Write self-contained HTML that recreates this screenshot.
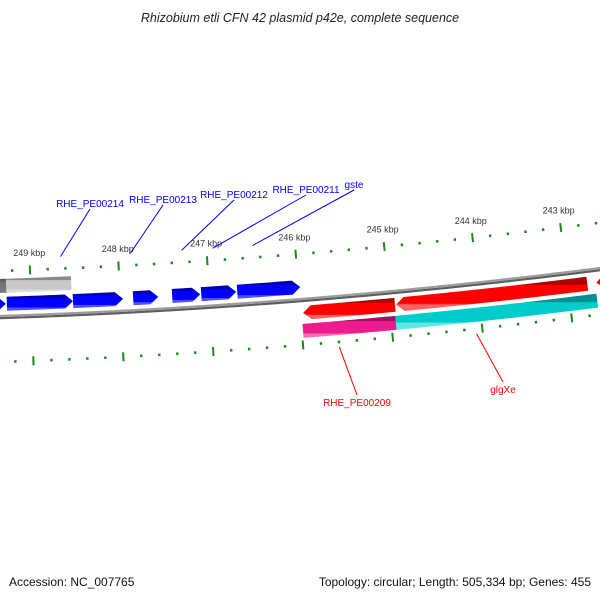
<!DOCTYPE html>
<html><head><meta charset="utf-8"><style>
body{margin:0;background:#fff;width:600px;height:600px;overflow:hidden;font-family:"Liberation Sans","DejaVu Sans",sans-serif}
svg{display:block}
</style></head><body>
<svg id="map" width="600" height="600" viewBox="0 0 600 600" xmlns="http://www.w3.org/2000/svg">
<defs>
<linearGradient id="gBlue" x1="0" y1="0" x2="0" y2="1"><stop offset="0" stop-color="#0000b0"/><stop offset="0.22" stop-color="#0000b0"/><stop offset="0.25" stop-color="#0000ff"/><stop offset="0.78" stop-color="#0000ff"/><stop offset="0.82" stop-color="#5050ff"/><stop offset="1" stop-color="#5050ff"/></linearGradient>
<linearGradient id="gRed" x1="0" y1="0" x2="0" y2="1"><stop offset="0" stop-color="#b00000"/><stop offset="0.22" stop-color="#b00000"/><stop offset="0.25" stop-color="#ff0000"/><stop offset="0.78" stop-color="#ff0000"/><stop offset="0.82" stop-color="#ff6060"/><stop offset="1" stop-color="#ff6060"/></linearGradient>
<linearGradient id="gPink" x1="0" y1="0" x2="0" y2="1"><stop offset="0" stop-color="#a0105e"/><stop offset="0.22" stop-color="#a0105e"/><stop offset="0.25" stop-color="#ec1c8e"/><stop offset="0.78" stop-color="#ec1c8e"/><stop offset="0.82" stop-color="#f070b0"/><stop offset="1" stop-color="#f070b0"/></linearGradient>
<linearGradient id="gCyan" x1="0" y1="0" x2="0" y2="1"><stop offset="0" stop-color="#009090"/><stop offset="0.22" stop-color="#009090"/><stop offset="0.25" stop-color="#00cccc"/><stop offset="0.78" stop-color="#00cccc"/><stop offset="0.82" stop-color="#60e8e8"/><stop offset="1" stop-color="#60e8e8"/></linearGradient>
<linearGradient id="gGray" x1="0" y1="0" x2="0" y2="1"><stop offset="0" stop-color="#8a8a8a"/><stop offset="0.22" stop-color="#8a8a8a"/><stop offset="0.25" stop-color="#c8c8c8"/><stop offset="0.78" stop-color="#c8c8c8"/><stop offset="0.82" stop-color="#dcdcdc"/><stop offset="1" stop-color="#dcdcdc"/></linearGradient>
<linearGradient id="gDark" x1="0" y1="0" x2="0" y2="1"><stop offset="0" stop-color="#505050"/><stop offset="0.25" stop-color="#707070"/><stop offset="1" stop-color="#808080"/></linearGradient>
</defs>
<text x="300" y="22" text-anchor="middle" font-size="12.5" font-style="italic" fill="#222">Rhizobium etli CFN 42 plasmid p42e, complete sequence</text>
<text x="9" y="586" font-size="12" fill="#111">Accession: NC_007765</text>
<text x="591" y="586" text-anchor="end" font-size="12" fill="#111">Topology: circular; Length: 505,334 bp; Genes: 455</text>
<g id="layer"></g>
</svg>
<script>
// ---- data ----
const tickStart = 249600;
const tickEnd = 242400;
const tickStep = 200;
const majorTicks = [249000, 248000, 247000, 246000, 245000, 244000, 243000];
const tickLabels = ["249 kbp", "248 kbp", "247 kbp", "246 kbp", "245 kbp", "244 kbp", "243 kbp"];
const featStart = [249576, 249273, 248531, 247856, 247418, 247092, 246687, 249700, 249273, 245970, 244929, 242680, 245987, 244949];
const featEnd   = [249284, 248531, 247969, 247575, 247103, 246699, 245979, 249273, 248542, 244941, 242781, 242000, 244949, 242695];
const featRow   = [-13, -13, -13, -13, -13, -13, -13, -31, -31, 13, 13, 13, 31, 31];
const featDir   = [1, 1, 1, 1, 1, 1, 1, 0, 0, -1, -1, -1, 0, 0];
const featFill  = ["gBlue","gBlue","gBlue","gBlue","gBlue","gBlue","gBlue","gDark","gGray","gRed","gRed","gRed","gPink","gCyan"];
const geneNames = ["RHE_PE00214", "RHE_PE00213", "RHE_PE00212", "RHE_PE00211", "gste", "RHE_PE00209", "glgXe"];
const geneBp    = [248650, 247860, 247280, 246930, 246480, 245600, 244070];
const geneSide  = [-1, -1, -1, -1, -1, 1, 1];

// ---- geometry ----
const CX = -213, CY = -6125.5, RB = 6446, K = 1.387e-5, PHI0 = 0.03797;
function ang(bp){ return PHI0 + (249000 - bp) * K; }
function pt(bp, r){ const a = ang(bp); return [CX + r*Math.sin(a), CY + r*Math.cos(a)]; }
const NS = "http://www.w3.org/2000/svg";
const layer = document.getElementById('layer');
function mk(tag, attrs){ const e = document.createElementNS(NS, tag); for (const k in attrs) e.setAttribute(k, attrs[k]); layer.appendChild(e); return e; }
function arcPts(b1, b2, r){ const out=[]; const n=Math.max(2, Math.ceil(Math.abs(b1-b2)/60)); for(let i=0;i<=n;i++){ out.push(pt(b1+(b2-b1)*i/n, r)); } return out; }

// backbone
[[RB+1.2,"#5e5e5e",2.2],[RB-1,"#9c9c9c",2.2]].forEach(function(s){
  const p = arcPts(250500, 241500, s[0]);
  const e = mk('polyline', {points: p.map(q=>q.join(',')).join(' '), fill:'none', stroke:s[1], 'stroke-width':s[2]});
  
  
});

// ticks
function tickRow(rIn, name){
  for (let bp = tickStart; bp >= tickEnd; bp -= tickStep){
    const major = majorTicks.indexOf(bp) >= 0;
    const h = major ? 4.5 : 1.3;
    const a = pt(bp, rIn - h), b = pt(bp, rIn + h);
    const e = mk('line', {x1:a[0], y1:a[1], x2:b[0], y2:b[1], stroke:'#1a8a1a', 'stroke-width': major ? 2 : 2.4});
    
    
  }
}
tickRow(RB - 46, 'tick-inner');
tickRow(RB + 45, 'tick-outer');
majorTicks.forEach(function(bp, i){
  const p = pt(bp, RB - 63);
  const t = mk('text', {x:p[0], y:p[1]+3, 'text-anchor':'middle', 'font-size':'9', fill:'#333'});
  t.textContent = tickLabels[i];
  
  
});

// features
featStart.forEach(function(s, i){
  const e0 = featEnd[i], r = RB + featRow[i], hw = 7, head = 90;
  let pts;
  if (featDir[i] === 1){ // arrow toward smaller bp (rightwards)
    const bh = e0 + head;
    pts = arcPts(s, bh, r - hw).concat([pt(e0, r)]).concat(arcPts(bh, s, r + hw));
  } else if (featDir[i] === -1){ // arrow toward larger bp (leftwards)
    const bh = s - head;
    pts = [pt(s, r)].concat(arcPts(bh, e0, r - hw)).concat(arcPts(e0, bh, r + hw));
  } else {
    pts = arcPts(s, e0, r - hw).concat(arcPts(e0, s, r + hw));
  }
  const el = mk('polygon', {points: pts.map(q=>q[0].toFixed(2)+','+q[1].toFixed(2)).join(' '), fill:'url(#'+featFill[i]+')'});
  
  
});

// gene labels
const labelPos = [[90,207],[163,203],[234,198],[306,193],[354,188],[357,406],[503,393]];
geneNames.forEach(function(nm, i){
  const side = geneSide[i];
  const col = side < 0 ? '#0000ff' : '#ff0000';
  const a = pt(geneBp[i], side < 0 ? RB - 58 : RB + 50);
  const lp = labelPos[i];
  const ly = side < 0 ? lp[1] + 2 : lp[1] - 11;
  const ln = mk('line', {x1:a[0], y1:a[1], x2:lp[0], y2:ly, stroke:col, 'stroke-width':1});
  
  
  const t = mk('text', {x:lp[0], y:lp[1], 'text-anchor':'middle', 'font-size':'10', fill:col});
  t.textContent = nm;
  
  
});
</script>
</body></html>
